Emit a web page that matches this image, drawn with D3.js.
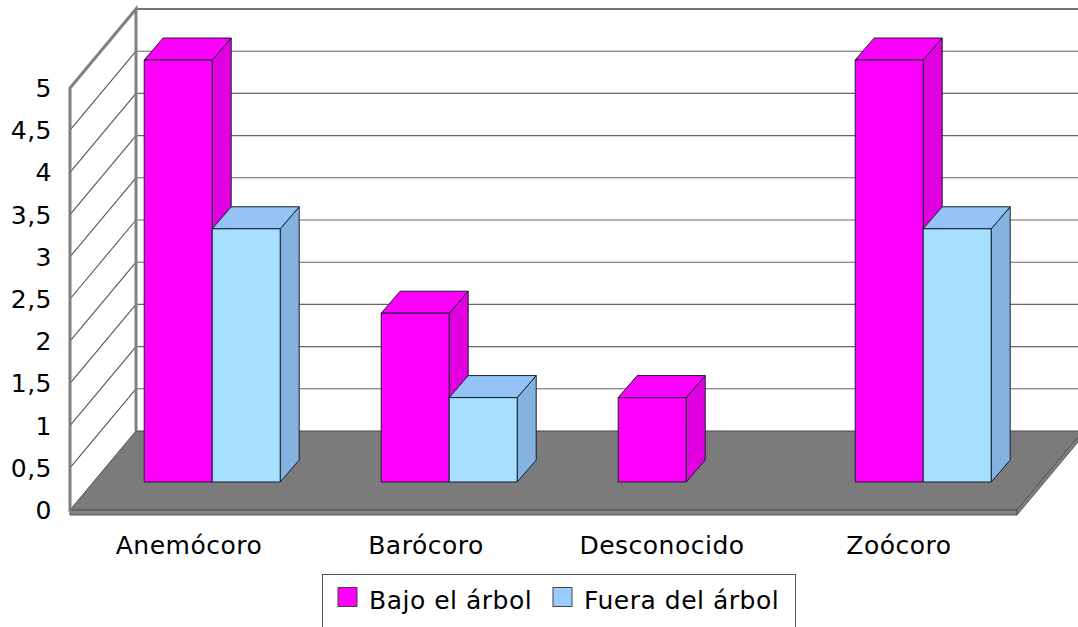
<!DOCTYPE html>
<html>
<head>
<meta charset="utf-8">
<script src="https://cdn.jsdelivr.net/npm/d3@7"></script>
<style>
html,body{margin:0;padding:0;background:#fff;overflow:hidden}
svg{display:block}
text{font-family:"DejaVu Sans",sans-serif;fill:#000;letter-spacing:0.5px}
</style>
</head>
<body>
<svg id="chart" width="1078" height="627"></svg>
<script>
const categories = ["Anemócoro", "Barócoro", "Desconocido", "Zoócoro"];
const seriesNames = ["Bajo el árbol", "Fuera del árbol"];
const bajoArbol = [5, 2, 1, 5];
const fueraArbol = [3, 1, null, 3];
const tickValues = [0, 0.5, 1, 1.5, 2, 2.5, 3, 3.5, 4, 4.5, 5];
const seriesColors = [
  {front: "#ff00ff", top: "#ff00ff", side: "#e000e0", swatch: "#ff00ff"},
  {front: "#a6dfff", top: "#94c4f5", side: "#85b3e0", swatch: "#99ccff"}
];

const W = 1078, H = 627;
const svg = d3.select("#chart");

// Oblique projection: the plot box recedes up and to the right.
const wallDX = 66, wallDY = -79;
const barDX = 19, barDY = -22;
const barLift = 28;

const x = d3.scaleBand().domain(categories).range([70, 1018]);
const y = d3.scaleLinear().domain([0, 5]).range([510, 88]);
const barScale = d3.scaleLinear().domain([0, 5]).range([0, y(0) - y(5)]);
const barW = 68, barInset = 74.2;

const poly = pts => pts.map(p => p.join(",")).join(" ");
const x0 = 70, x1 = 1017, y0 = y(0), y5 = y(5);

// Floor slab
const slab = 5;
svg.append("polygon")
  .attr("points", poly([[x0, y0], [x1, y0], [x1 + wallDX, y0 + wallDY], [x0 + wallDX, y0 + wallDY]]))
  .attr("fill", "#7b7b7b").attr("stroke", "#4a4a4a").attr("stroke-width", 1);
svg.append("polygon")
  .attr("points", poly([[x0, y0], [x1, y0], [x1, y0 + slab], [x0, y0 + slab]]))
  .attr("fill", "#808080").attr("stroke", "#555").attr("stroke-width", 1);
svg.append("polygon")
  .attr("points", poly([[x1, y0], [x1 + wallDX, y0 + wallDY], [x1 + wallDX, y0 + wallDY + slab], [x1, y0 + slab]]))
  .attr("fill", "#808080").attr("stroke", "#555").attr("stroke-width", 1);

// Grid lines on the side wall and the back wall
const grid = svg.append("g").attr("stroke", "#555").attr("stroke-width", 1.1);
tickValues.forEach(v => {
  const yy = y(v);
  if (v > 0) {
    grid.append("line").attr("x1", x0).attr("y1", yy).attr("x2", x0 + wallDX).attr("y2", yy + wallDY);
    grid.append("line").attr("x1", x0 + wallDX).attr("y1", yy + wallDY).attr("x2", W).attr("y2", yy + wallDY)
      .attr("stroke", v === 5 ? "#444" : "#666").attr("stroke-width", v === 5 ? 1.6 : 1.1);
  }
});

// Wall edges
const edges = svg.append("g").attr("stroke", "#808080").attr("stroke-width", 3).attr("fill", "none");
edges.append("polyline").attr("points", poly([[x0, y0 + 2], [x0, y5], [x0 + wallDX, y5 + wallDY], [x0 + wallDX, y0 + wallDY]]));

// Bars
const bars = svg.append("g").attr("stroke", "#14202c").attr("stroke-width", 1).attr("stroke-linejoin", "round");
function drawBar(cat, value, i) {
  if (value == null) return;
  const c = seriesColors[i];
  const left = x(cat) + barInset + i * barW;
  const right = left + barW;
  const base = y0 - barLift;
  const top = base - barScale(value);
  bars.append("polygon")
    .attr("points", poly([[right, base], [right + barDX, base + barDY], [right + barDX, top + barDY], [right, top]]))
    .attr("fill", c.side);
  bars.append("polygon")
    .attr("points", poly([[left, top], [right, top], [right + barDX, top + barDY], [left + barDX, top + barDY]]))
    .attr("fill", c.top);
  bars.append("rect")
    .attr("x", left).attr("y", top).attr("width", barW).attr("height", base - top)
    .attr("fill", c.front);
}
categories.forEach((cat, k) => {
  drawBar(cat, bajoArbol[k], 0);
  drawBar(cat, fueraArbol[k], 1);
});

// Value axis labels
svg.append("g").selectAll("text").data(tickValues).join("text")
  .attr("x", 52).attr("y", d => y(d))
  .attr("dy", "0.36em")
  .attr("text-anchor", "end")
  .attr("font-size", 25)
  .text(d => String(d).replace(".", ","));

// Category labels
const labelCenters = [189, 426, 662, 899];
svg.append("g").selectAll("text").data(categories).join("text")
  .attr("x", (d, i) => labelCenters[i]).attr("y", 554)
  .attr("text-anchor", "middle")
  .attr("font-size", 25)
  .text(d => d);

// Legend, running off the bottom of the frame
const legend = svg.append("g");
legend.append("rect")
  .attr("x", 322.5).attr("y", 574.5).attr("width", 473).attr("height", 70)
  .attr("fill", "#fff").attr("stroke", "#555").attr("stroke-width", 1);
const swatchX = [338, 553], textX = [369, 584];
seriesNames.forEach((name, i) => {
  legend.append("rect")
    .attr("x", swatchX[i]).attr("y", 587.5).attr("width", 19).attr("height", 19)
    .attr("fill", seriesColors[i].swatch).attr("stroke", "#444").attr("stroke-width", 1);
  legend.append("text")
    .attr("x", textX[i]).attr("y", 609)
    .attr("font-size", 25)
    .text(name);
});
</script>
</body>
</html>
